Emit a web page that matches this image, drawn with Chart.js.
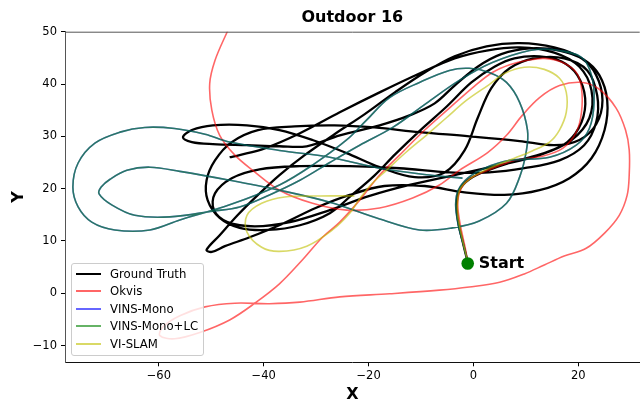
<!DOCTYPE html>
<html><head><meta charset="utf-8">
<script src="https://cdn.jsdelivr.net/npm/chart.js@4.4.1/dist/chart.umd.min.js"></script>
<style>
html,body{margin:0;padding:0;background:#fff;overflow:hidden;}
#wrap{position:relative;width:641px;height:401px;overflow:hidden;}
#legend{position:absolute;background:rgba(255,255,255,0.8);border:1px solid #cccccc;border-radius:3px;font-family:"DejaVu Sans";font-size:11.7px;color:#000;padding:1px 5px 2px 3px;box-sizing:border-box;white-space:nowrap}
.item{display:flex;align-items:center;height:17.5px;}
.swatch{width:25px;margin:0 9px 0 1px;}
</style></head>
<body><div id="wrap"><canvas id="c" width="646" height="401"></canvas><div id="legend"></div></div>
<script>
const chartTitle = 'Outdoor 16';
const xTitle = 'X';
const yTitle = 'Y';
const startLabel = 'Start';
const seriesNames = ['Ground Truth', 'Okvis', 'VINS-Mono', 'VINS-Mono+LC', 'VI-SLAM'];
const xTicks = [-60, -40, -20, 0, 20];
const yTicks = [-10, 0, 10, 20, 30, 40, 50];
const xRange = [-77.9, 31.7];
const yRange = [-13.2, 50];
const startPoint = [-1.1, 5.7];

const groundTruth = [[-1.1,6.0],[-1.9,9.2],[-2.9,13.6],[-3.2,16.9],[-2.7,19.7],[-0.8,21.8],[2.7,23.5],[7.8,25.2],[13.5,26.8],[17.9,28.9],[20.6,32.7],[21.3,37.3],[19.8,41.7],[16.8,44.3],[12.6,45.3],[7.8,44.9],[4.0,43.3],[-0.4,40.3],
[-5.1,35.7],[-10.1,31.2],[-14.9,26.6],[-19.0,22.4],[-23.4,18.6],[-27.4,15.3],[-33.1,13.0],[-39.2,12.1],[-44.6,12.5],[-48.4,14.4],[-50.7,17.8],[-50.9,21.6],[-49.3,25.4],[-46.1,28.9],[-41.1,31.2],[-34.1,31.9],[-26.5,32.1],[-18.9,31.7],[-10.3,30.8],[-0.8,30.0],[8.8,29.1],[15.4,28.3],[20.2,29.3],[23.4,32.3],[24.6,36.9],[23.4,41.7],[20.6,44.9],[15.4,47.0],[8.8,47.8],[2.5,47.2],[-3.6,45.3],[-9.3,42.2],[-15.0,38.4],[-20.8,34.2],[-26.5,30.4],[-32.2,26.4],[-37.0,22.6],[-41.1,18.8],[-45.0,14.9],[-48.4,11.1],[-50.9,8.3],
[-49.9,7.9],[-47.4,9.0],[-42.7,10.7],[-36.6,13.2],[-30.1,16.3],[-23.6,18.8],[-17.0,20.5],[-9.3,20.5],[-1.7,19.3],[5.9,18.8],[12.6,19.7],[18.3,22.0],[22.5,25.8],[25.0,31.2],[25.5,36.9],[24.0,41.7],[21.0,44.7],[16.4,46.4],[10.7,46.8],[5.3,45.7],[0.8,43.3],[-3.6,39.7],[-7.4,36.3],[-12.2,34.0],[-17.9,32.1],[-25.5,30.2],[-31.8,28.1],[-37.0,28.1],[-43.2,28.3],[-49.7,28.5],[-53.7,28.9],[-55.4,29.8],[-53.7,31.2],[-49.7,32.1],[-43.2,32.1],[-37.0,31.2],[-30.7,29.3],[-24.2,26.8],[-17.9,24.1],[-11.2,22.2],[-5.5,23.1],[-1.7,27.3],[0.8,33.5],[3.4,39.2],[6.9,43.0],[11.6,44.9],[17.3,44.9],[21.7,42.6],[23.6,37.8],[23.4,32.7],[21.1,28.3],[16.4,25.4],[9.7,23.9],[3.0,23.1],[-4.6,23.1],[-14.1,23.9],[-23.6,24.3],[-33.1,24.3],[-40.8,23.7],[-46.1,22.0],[-49.3,19.1],[-49.5,15.9],[-46.9,13.6],[-41.7,12.8],[-35.0,13.6],[-27.4,15.9],[-19.8,18.6],[-12.2,20.7],[-3.6,22.6],[5.0,24.5],[12.6,26.4],[18.7,29.3],[22.1,33.5],[22.5,38.8],[20.2,43.3],[15.4,46.0],[8.8,47.0],[2.5,46.4],[-3.6,44.9],[-10.3,42.0],[-17.9,38.4],[-25.5,34.6],[-33.1,30.6],[-39.8,27.7],[-44.6,26.4],[-46.5,26.0]];

const okvis = [[-1.1,6.0],[-1.5,8.3],[-2.5,13.0],[-3.0,16.9],[-2.5,19.7],[-0.8,21.8],[2.7,23.5],[7.8,25.4],[13.1,26.2],[17.0,27.7],[19.6,30.8],[20.6,34.6],[20.6,39.2],[19.6,42.2],[17.0,44.1],[13.5,44.9],[10.1,44.5],[6.9,43.7],[3.6,42.2],[0.2,39.6],[-4.6,35.4],[-9.3,31.2],[-14.1,26.4],[-17.9,22.6],[-21.7,17.8],[-25.5,13.6],[-28.8,10.7],[-32.6,6.4],[-37.0,1.8],[-41.7,-1.9],[-46.5,-5.1],[-52.2,-7.5],[-57.0,-8.7],[-59.8,-8.1],[-59.2,-6.4],[-56.0,-4.3],[-51.2,-2.6],[-45.5,-1.9],[-38.9,-2.0],[-33.1,-1.7],[-25.5,-0.7],[-16.0,-0.1],[-6.5,0.6],[-0.8,1.2],[5.0,2.1],[9.7,3.7],[13.5,5.4],[17.3,7.1],[21.5,8.6],[25.0,11.5],[27.8,14.9],[29.3,18.7],[29.7,22.6],[29.7,27.4],[29.0,31.2],[27.2,35.4],[24.0,39.0],[20.8,40.3],[16.4,39.7],[12.6,37.4],[9.3,34.0],[6.3,30.2],[2.7,26.9],[-2.7,23.5],[-6.5,20.7],[-11.6,18.2],[-17.9,16.3],[-24.2,15.9],[-30.7,17.2],[-37.0,19.7],[-42.1,23.5],[-45.5,26.4],[-48.4,30.2],[-49.9,35.0],[-50.3,40.1],[-49.3,44.5],[-47.0,49.9],[-45.5,53.1]];

const vinsMono = [[-1.1,6.0],[-1.9,9.2],[-2.9,13.0],[-3.4,16.9],[-2.9,19.7],[-1.1,22.0],[2.1,23.9],[6.9,25.4],[14.5,26.0],[19.6,28.3],[22.1,31.5],[23.0,36.5],[22.5,41.7],[20.6,45.1],[15.0,46.6],[10.7,46.4],[3.6,44.1],[-2.7,40.7],[-9.0,36.3],[-15.4,31.7],[-21.7,28.3],[-27.4,25.0],[-33.1,21.6],[-38.9,18.8],[-44.6,16.5],[-49.7,15.7],[-57.9,14.6],[-64.6,14.9],[-69.0,16.9],[-71.4,19.0],[-71.0,20.3],[-69.3,21.8],[-66.1,23.5],[-61.7,24.1],[-56.0,23.3],[-46.5,21.6],[-37.0,19.7],[-27.4,17.4],[-17.9,14.2],[-10.3,12.1],[-4.0,12.5],[1.1,13.8],[6.3,17.2],[8.8,22.2],[10.1,27.3],[10.3,31.2],[8.8,36.5],[6.3,40.3],[3.0,42.2],[-0.8,43.0],[-4.6,42.6],[-10.3,40.3],[-16.0,37.4],[-20.4,33.1],[-24.2,29.3],[-30.7,24.5],[-37.0,20.7],[-46.5,16.9],[-56.0,14.0],[-61.7,12.1],[-68.4,12.1],[-72.8,13.6],[-75.4,16.5],[-76.4,20.3],[-75.4,24.9],[-72.2,28.7],[-67.4,30.8],[-62.7,31.7],[-57.0,31.5],[-51.2,30.4],[-46.5,28.9],[-37.0,27.3],[-27.4,26.0],[-17.9,23.9],[-8.4,22.6],[-2.1,22.0]];

const vinsMonoLC = [[-1.1,6.0],[-1.9,9.2],[-2.9,13.0],[-3.4,16.9],[-2.9,19.7],[-1.1,22.0],[2.1,23.9],[6.9,25.4],[14.5,26.0],[19.6,28.3],[22.1,31.5],[23.0,36.5],[22.5,41.7],[20.6,45.1],[15.0,46.6],[10.7,46.4],[3.6,44.1],[-2.7,40.7],[-9.0,36.3],[-15.4,31.7],[-21.7,28.3],[-27.4,25.0],[-33.1,21.6],[-38.9,18.8],[-44.6,16.5],[-49.7,15.7],[-57.9,14.6],[-64.6,14.9],[-69.0,16.9],[-71.4,19.0],[-71.0,20.3],[-69.3,21.8],[-66.1,23.5],[-61.7,24.1],[-56.0,23.3],[-46.5,21.6],[-37.0,19.7],[-27.4,17.4],[-17.9,14.2],[-10.3,12.1],[-4.0,12.5],[1.1,13.8],[6.3,17.2],[8.8,22.2],[10.1,27.3],[10.3,31.2],[8.8,36.5],[6.3,40.3],[3.0,42.2],[-0.8,43.0],[-4.6,42.6],[-10.3,40.3],[-16.0,37.4],[-20.4,33.1],[-24.2,29.3],[-30.7,24.5],[-37.0,20.7],[-46.5,16.9],[-56.0,14.0],[-61.7,12.1],[-68.4,12.1],[-72.8,13.6],[-75.4,16.5],[-76.4,20.3],[-75.4,24.9],[-72.2,28.7],[-67.4,30.8],[-62.7,31.7],[-57.0,31.5],[-51.2,30.4],[-46.5,28.9],[-37.0,27.3],[-27.4,26.0],[-17.9,23.9],[-8.4,22.6],[-2.1,22.0]];

const viSlam = [[-1.1,6.0],[-2.1,10.2],[-3.0,14.9],[-3.0,18.2],[-2.3,20.3],[-0.2,22.2],[3.0,23.9],[7.8,25.8],[11.2,27.2],[14.5,28.9],[16.4,31.2],[17.7,34.6],[17.7,38.4],[16.4,41.1],[13.5,42.8],[9.7,43.2],[5.9,42.0],[3.0,39.9],[-1.3,36.9],[-5.1,33.6],[-9.0,30.2],[-12.8,27.0],[-16.6,23.5],[-19.6,20.7],[-21.9,17.8],[-23.6,15.3],[-26.9,12.1],[-31.8,9.0],[-37.0,8.0],[-40.4,8.8],[-43.2,11.7],[-43.2,14.9],[-40.4,17.2],[-36.0,18.4],[-29.3,18.6],[-22.7,18.6]];

const toPts = a => a.map(p => ({x: p[0], y: p[1]}));
function lineSet(label, data, color, width, order) {
  return {label, data: toPts(data), borderColor: color, backgroundColor: color, borderWidth: width,
    showLine: true, pointRadius: 0, pointHoverRadius: 0, tension: 0.35, fill: false, order};
}
const FONT = '"DejaVu Sans", sans-serif';

const extras = {
  id: 'extras',
  afterDatasetsDraw(chart) {
    const {ctx, chartArea: a, scales: {x, y}} = chart;
    ctx.save();
    ctx.strokeStyle = '#555';
    ctx.lineWidth = 1;
    ctx.beginPath();
    ctx.moveTo(a.left, a.top + 0.5);
    ctx.lineTo(a.right, a.top + 0.5);
    ctx.stroke();
    ctx.font = 'bold 16px ' + FONT;
    ctx.fillStyle = '#000';
    ctx.textBaseline = 'middle';
    ctx.textAlign = 'left';
    ctx.fillText(startLabel, x.getPixelForValue(startPoint[0]) + 11, y.getPixelForValue(startPoint[1]));
    ctx.restore();
  }
};

const chart = new Chart(document.getElementById('c'), {
  type: 'scatter',
  data: {
    datasets: [
      lineSet(seriesNames[0], groundTruth, '#000000', 2.3, 5),
      lineSet(seriesNames[1], okvis, 'rgba(255,0,0,0.6)', 1.6, 4),
      lineSet(seriesNames[2], vinsMono, 'rgba(0,0,255,0.6)', 1.6, 3),
      lineSet(seriesNames[3], vinsMonoLC, 'rgba(0,128,0,0.6)', 1.6, 2),
      lineSet(seriesNames[4], viSlam, 'rgba(191,191,0,0.6)', 1.6, 1),
      {label: startLabel, data: toPts([startPoint]), pointRadius: 6.3, pointHoverRadius: 6.3,
       backgroundColor: '#008000', borderColor: '#008000', borderWidth: 0, showLine: false, order: 0}
    ]
  },
  options: {
    responsive: false,
    animation: false,
    events: [],
    layout: {padding: {left: 0, top: 0, bottom: 0, right: -5}},
    plugins: {
      legend: {display: false},
      tooltip: {enabled: false},
      title: {display: true, text: chartTitle, fullSize: false, color: '#000',
        font: {family: FONT, size: 16, weight: 'bold', lineHeight: 1.2},
        padding: {top: 8.5, bottom: 4}}
    },
    scales: {
      x: {
        type: 'linear', min: xRange[0], max: xRange[1],
        afterBuildTicks: s => { s.ticks = xTicks.map(v => ({value: v})); },
        afterFit: s => { s.height = 38.7; },
        ticks: {color: '#000', font: {family: FONT, size: 11.5}, padding: 3, maxRotation: 0, autoSkip: false,
          callback: v => String(v).replace('-', '\u2212')},
        grid: {drawOnChartArea: false, drawTicks: true, tickLength: 4, color: '#000'},
        border: {display: true, color: '#111', width: 1},
        title: {display: true, text: xTitle, color: '#000', font: {family: FONT, size: 16, weight: 'bold', lineHeight: 0.75}, padding: {top: 0, bottom: 0}}
      },
      y: {
        type: 'linear', min: yRange[0], max: yRange[1],
        afterBuildTicks: s => { s.ticks = yTicks.map(v => ({value: v})); },
        afterFit: s => { s.width = 65; },
        ticks: {color: '#000', font: {family: FONT, size: 11.5}, padding: 4, autoSkip: false,
          callback: v => String(v).replace('-', '\u2212')},
        grid: {drawOnChartArea: false, drawTicks: true, tickLength: 4, color: '#000'},
        border: {display: true, color: '#555', width: 1},
        title: {display: true, text: yTitle, color: '#000', font: {family: FONT, size: 16, weight: 'bold', lineHeight: 1}, padding: {top: 11, bottom: 0}}
      }
    }
  },
  plugins: [extras]
});

// HTML legend inside the plot, lower left
const legend = document.getElementById('legend');
chart.data.datasets.slice(0, 5).forEach(ds => {
  const item = document.createElement('div');
  item.className = 'item';
  const sw = document.createElement('div');
  sw.className = 'swatch';
  sw.style.height = ds.borderWidth + 'px';
  sw.style.background = ds.borderColor;
  const tx = document.createElement('span');
  tx.textContent = ds.label;
  item.appendChild(sw);
  item.appendChild(tx);
  legend.appendChild(item);
});
const ca = chart.chartArea;
legend.style.left = (ca.left + 6) + 'px';
legend.style.top = (ca.bottom - 6.3 - legend.offsetHeight) + 'px';
</script>
</body></html>
